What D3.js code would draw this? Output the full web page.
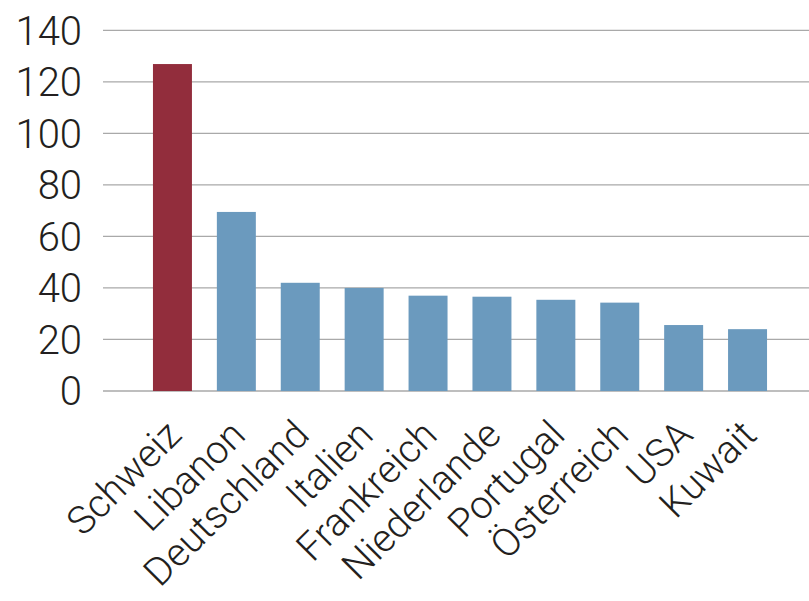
<!DOCTYPE html>
<html>
<head>
<meta charset="utf-8">
<script src="https://cdn.jsdelivr.net/npm/d3@7"></script>
<style>
  html, body { margin: 0; padding: 0; background: #fff; }
  svg { display: block; }
  text { font-family: Roboto, "Liberation Sans", sans-serif; font-weight: 300; fill: #231f20; }
</style>
</head>
<body>
<svg id="chart" width="809" height="601"></svg>
<script>
// Countries, in chart order
const countries = ["Schweiz", "Libanon", "Deutschland", "Italien", "Frankreich",
                   "Niederlande", "Portugal", "Österreich", "USA", "Kuwait"];
// Values per country
const values = [126.9, 69.5, 42.0, 40.0, 37.0, 36.6, 35.4, 34.3, 25.6, 24.0];
// Highlighted country
const highlight = "Schweiz";
// Y axis ticks
const yTicks = [0, 20, 40, 60, 80, 100, 120, 140];

const data = countries.map((c, i) => ({ country: c, value: values[i] }));

const svg = d3.select("#chart");

const gridLeft = 103, gridRight = 809;
const y = d3.scaleLinear().domain([0, 140]).range([391, 30.3]);
const x = d3.scaleBand().domain(countries).range([140.5, 779.5])
  .paddingInner(0.39).paddingOuter(0.195);

// Horizontal gridlines
svg.append("g").selectAll("line").data(yTicks).join("line")
  .attr("x1", gridLeft).attr("x2", gridRight)
  .attr("y1", d => y(d)).attr("y2", d => y(d))
  .attr("stroke", "#a9a9a9").attr("stroke-width", 1.3);

// Y tick labels
svg.append("g").selectAll("text").data(yTicks).join("text")
  .attr("x", 82).attr("y", d => y(d))
  .attr("dy", "0.36em")
  .attr("text-anchor", "end")
  .attr("font-size", 40)
  .text(d => d);

// Bars
svg.append("g").selectAll("rect").data(data).join("rect")
  .attr("x", d => x(d.country))
  .attr("width", x.bandwidth())
  .attr("y", d => y(d.value))
  .attr("height", d => y(0) - y(d.value))
  .attr("fill", d => d.country === highlight ? "#922d3c" : "#6b9abe");

// Rotated country labels
svg.append("g").selectAll("text").data(data).join("text")
  .attr("transform", d => `translate(${x(d.country) + x.bandwidth() / 2 + 11},${437}) rotate(-45)`)
  .attr("text-anchor", "end")
  .attr("font-size", 39)
  .text(d => d.country);
</script>
</body>
</html>
